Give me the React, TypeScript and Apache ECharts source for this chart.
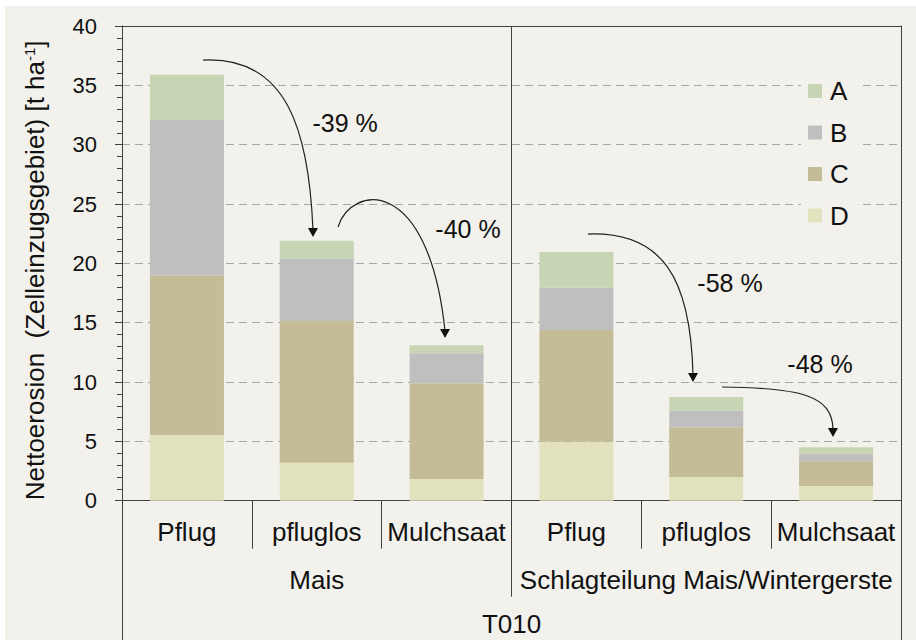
import React, { useEffect, useRef } from "react";
import * as echarts from "echarts";

// ---- data ----
const categories = ["Pflug", "pfluglos", "Mulchsaat", "Pflug", "pfluglos", "Mulchsaat"];
const groups = ["Mais", "Schlagteilung Mais/Wintergerste"];
const site = ["T010"];
const seriesNames = ["A", "B", "C", "D"];
const valuesA = [3.83, 1.5, 0.67, 3.0, 1.14, 0.54];
const valuesB = [13.11, 5.26, 2.53, 3.57, 1.42, 0.64];
const valuesC = [13.42, 11.94, 8.06, 9.41, 4.18, 2.08];
const valuesD = [5.54, 3.2, 1.83, 4.97, 2.0, 1.24];
const yTicks = { min: 0, max: 40, interval: 5 };

// reduction annotations: label + anchor in (category index, value) units
const reductionLabels = ["-39 %", "-40 %", "-58 %", "-48 %"];
const labelAnchors: number[][] = [
  [1.218, 31.83],
  [2.165, 22.89],
  [4.183, 18.34],
  [4.876, 11.52],
];
// arrows: cubic bezier start, control1, control2, tip (category index, value)
const arrowAnchors: number[][][] = [
  [[0.124, 37.13], [0.78, 37.5], [0.94, 31.0], [0.971, 22.21]],
  [[1.164, 23.06], [1.26, 26.6], [1.86, 27.6], [1.988, 13.71]],
  [[3.089, 22.47], [3.66, 22.7], [3.88, 18.8], [3.898, 10.0]],
  [[4.121, 9.58], [4.722, 9.5], [4.976, 8.91], [4.976, 5.37]],
];

const colors: Record<string, string> = {
  A: "#c8d5b5",
  B: "#bfbfbf",
  C: "#c4bc96",
  D: "#e2e2bf",
};
const FONT = "'Liberation Sans', Arial, sans-serif";
const TXT = "#111111";
const LINE = "#404040";
const BG = "#f2f1ec";

export default function App() {
  const ref = useRef<HTMLDivElement>(null);
  useEffect(() => {
    document.body.style.margin = "0";
    if (!ref.current) return;
    const chart = echarts.init(ref.current, undefined, { renderer: "svg" });
    const valueMap: Record<string, number[]> = { A: valuesA, B: valuesB, C: valuesC, D: valuesD };
    const stackOrder = ["D", "C", "B", "A"];
    const option: any = {
      animation: false,
      backgroundColor: BG,
      textStyle: { fontFamily: FONT, color: TXT },
      grid: { left: 117, top: 20, right: 15, bottom: 139.3, containLabel: false },
      legend: {
        orient: "vertical",
        left: 796,
        top: 68,
        data: seriesNames,
        icon: "rect",
        itemWidth: 14,
        itemHeight: 14,
        itemGap: 15.5,
        padding: [4, 9, 4, 7],
        backgroundColor: BG,
        textStyle: { fontSize: 26, fontFamily: FONT, color: TXT, lineHeight: 22, padding: [0, 0, 0, 3] },
      },
      xAxis: [
        {
          type: "category",
          data: categories,
          position: "bottom",
          axisLine: { show: true, lineStyle: { color: LINE, width: 1 } },
          axisTick: { show: true, length: 48, lineStyle: { color: LINE } },
          axisLabel: { fontSize: 26, fontFamily: FONT, color: TXT, margin: 18, interval: 0 },
          splitLine: { show: false },
        },
        {
          type: "category",
          data: groups,
          position: "bottom",
          axisLine: { show: false },
          axisTick: { show: true, length: 96, lineStyle: { color: LINE } },
          axisLabel: { fontSize: 26, fontFamily: FONT, color: TXT, margin: 66, interval: 0 },
          splitLine: { show: true, lineStyle: { color: LINE, width: 1 } },
        },
        {
          type: "category",
          data: site,
          position: "bottom",
          axisLine: { show: false },
          axisTick: { show: true, length: 140, lineStyle: { color: LINE } },
          axisLabel: { fontSize: 26, lineHeight: 20, fontFamily: FONT, color: TXT, margin: 113, interval: 0 },
          splitLine: { show: false },
        },
        {
          type: "category",
          data: categories,
          position: "top",
          axisLine: { show: true, lineStyle: { color: LINE, width: 1 } },
          axisTick: { show: false },
          axisLabel: { show: false },
        },
      ],
      yAxis: [
        {
          type: "value",
          min: yTicks.min,
          max: yTicks.max,
          interval: yTicks.interval,
          position: "left",
          name: "Nettoerosion  (Zelleinzugsgebiet) [t ha{sup|-1}]",
          nameLocation: "middle",
          nameGap: 74,
          nameTextStyle: {
            fontSize: 26,
            fontFamily: FONT,
            color: TXT,
            padding: [0, 14, 0, 0],
            rich: {
              sup: { fontSize: 15, fontFamily: FONT, color: TXT, verticalAlign: "top" },
            },
          },
          axisLine: { show: true, lineStyle: { color: LINE, width: 1 } },
          axisTick: { show: true, inside: false, length: 7, lineStyle: { color: LINE } },
          minorTick: { show: true, splitNumber: 5, length: 5, lineStyle: { color: LINE } },
          axisLabel: { fontSize: 22, fontFamily: FONT, color: TXT, margin: 25 },
          splitLine: { show: true, lineStyle: { color: "#a6a6a6", width: 1, type: [8, 5] } },
        },
        {
          type: "value",
          min: yTicks.min,
          max: yTicks.max,
          interval: yTicks.interval,
          position: "right",
          axisLine: { show: true, lineStyle: { color: LINE, width: 1 } },
          axisTick: { show: false },
          axisLabel: { show: false },
          splitLine: { show: false },
        },
      ],
      series: stackOrder.map((name) => ({
        name,
        type: "bar",
        stack: "total",
        xAxisIndex: 0,
        yAxisIndex: 0,
        barWidth: "57%",
        itemStyle: { color: colors[name] },
        data: valueMap[name],
      })),
    };
    chart.setOption(option);

    const c0 = chart.convertToPixel({ xAxisIndex: 0 }, 0) as number;
    const c1 = chart.convertToPixel({ xAxisIndex: 0 }, 1) as number;
    const band = c1 - c0;
    const px = (p: number[]) => [c0 + p[0] * band, chart.convertToPixel({ yAxisIndex: 0 }, p[1]) as number];

    const graphics: any[] = [];
    arrowAnchors.forEach((a) => {
      const p0 = px(a[0]);
      const p1 = px(a[1]);
      const p2 = px(a[2]);
      const tip = px(a[3]);
      graphics.push({
        type: "bezierCurve",
        z: 10,
        shape: {
          x1: p0[0], y1: p0[1],
          cpx1: p1[0], cpy1: p1[1],
          cpx2: p2[0], cpy2: p2[1],
          x2: tip[0], y2: tip[1] - 7,
        },
        style: { stroke: "#222", lineWidth: 1.2, fill: null },
      });
      graphics.push({
        type: "polygon",
        z: 10,
        shape: { points: [[tip[0] - 5, tip[1] - 9], [tip[0] + 5, tip[1] - 9], [tip[0], tip[1]]] },
        style: { fill: "#111" },
      });
    });
    reductionLabels.forEach((t, i) => {
      const p = px(labelAnchors[i]);
      graphics.push({
        type: "text",
        z: 10,
        x: p[0],
        y: p[1],
        style: { text: t, fontSize: 25, fontFamily: FONT, fill: TXT, align: "center", verticalAlign: "middle" },
      });
    });
    chart.setOption({ graphic: graphics });

    return () => chart.dispose();
  }, []);

  return (
    <div style={{ width: 916, height: 640, background: "#ffffff", paddingLeft: 5, paddingTop: 6, boxSizing: "border-box" }}>
      <div ref={ref} style={{ width: 911, height: 634 }} />
    </div>
  );
}
